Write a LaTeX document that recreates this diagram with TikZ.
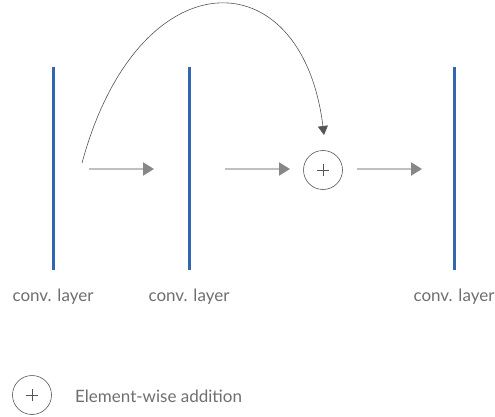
\documentclass[tikz,border=0pt]{standalone}
\usepackage{fontspec}
\setmainfont{Lato}
\usetikzlibrary{arrows.meta}
\definecolor{barblue}{RGB}{51,102,176}
\definecolor{txtgray}{RGB}{110,110,110}
\definecolor{linegray}{RGB}{192,192,192}
\definecolor{headgray}{RGB}{135,135,135}
\definecolor{curvegray}{RGB}{85,85,85}
\tikzset{
  x=1pt, y=-1pt,
  bar/.style={fill=barblue, draw=none, minimum width=3pt, minimum height=203pt, inner sep=0pt},
  lbl/.style={text=txtgray, font=\fontsize{17}{19}\selectfont, inner sep=0pt},
  flow/.style={draw=linegray, line width=2.2pt, -{Triangle[length=11pt,width=13pt,color=headgray]}},
  addc/.style={circle, draw=curvegray, line width=0.6pt, minimum size=39pt, inner sep=0pt,
    path picture={\draw[curvegray, line width=0.7pt] ([xshift=-6pt]path picture bounding box.center) -- ([xshift=6pt]path picture bounding box.center)
      ([yshift=-6pt]path picture bounding box.center) -- ([yshift=6pt]path picture bounding box.center);}},
  skip/.style={draw=curvegray, line width=0.6pt, -{Triangle[length=9pt,width=10pt]}}
}
\begin{document}
\begin{tikzpicture}
\useasboundingbox (0,0) rectangle (495,417);
\node[bar] (b1) at (53,168.5) {};
\node[bar] (b2) at (189,168.5) {};
\node[bar] (b3) at (454,168.5) {};
\node[lbl] (l1) at (53,297) {conv. layer};
\node[lbl] (l2) at (189,297) {conv. layer};
\node[lbl] (l3) at (454,297) {conv. layer};
\node[addc] (add) at (323,170) {};
\coordinate (a1s) at (89,169);
\coordinate (a1e) at (154,169);
\coordinate (a2s) at (225,169);
\coordinate (a2e) at (290,169);
\coordinate (a3s) at (357,169);
\coordinate (a3e) at (422,169);
\draw[flow] (a1s) -- (a1e);
\draw[flow] (a2s) -- (a2e);
\draw[flow] (a3s) -- (a3e);
\coordinate (cs) at (82,163);
\coordinate (ce) at (324,135);
\draw[skip] (cs) .. controls (138,-44) and (302,-44) .. (ce);
\node[addc] (leg) at (32,395) {};
\node[lbl, anchor=west] (legt) at (75,396) {Element-wise addition};
\end{tikzpicture}
\end{document}
